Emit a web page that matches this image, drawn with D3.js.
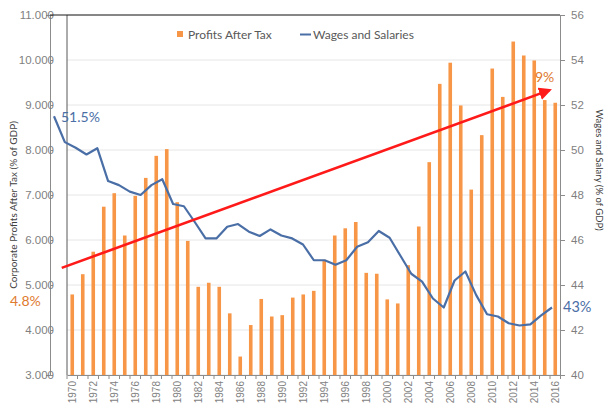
<!DOCTYPE html>
<html>
<head>
<meta charset="utf-8">
<script src="https://cdn.jsdelivr.net/npm/d3@7"></script>
<style>
  body { margin: 0; background: #fff; }
  svg { font-family: Lato, "Open Sans", sans-serif; }
</style>
</head>
<body>
<div id="chart"></div>
<script>
// Years on the category axis
var years = d3.range(1970, 2017);

// Corporate profits after tax, % of GDP (left axis)
var profits = [4.79, 5.24, 5.74, 6.74, 7.04, 6.10, 6.98, 7.38, 7.87, 8.02,
               6.84, 5.98, 4.96, 5.05, 4.96, 4.37, 3.41, 4.11, 4.69, 4.30,
               4.33, 4.72, 4.79, 4.87, 5.56, 6.10, 6.26, 6.40, 5.27, 5.25,
               4.68, 4.59, 5.44, 6.30, 7.73, 9.47, 9.94, 8.99, 7.12, 8.33,
               9.81, 9.18, 10.41, 10.10, 9.99, 9.11, 9.05];

// Wages and salaries, % of GDP (right axis)
var wages = [51.5, 50.35, 50.1, 49.8, 50.08, 48.62, 48.44, 48.15, 48.0, 48.44,
             48.7, 47.6, 47.5, 46.8, 46.07, 46.07, 46.59, 46.71, 46.37, 46.18,
             46.47, 46.2, 46.07, 45.8, 45.1, 45.1, 44.9, 45.1, 45.7, 45.9,
             46.4, 46.1, 45.3, 44.5, 44.15, 43.4, 43.0, 44.2, 44.6, 43.55,
             42.7, 42.6, 42.3, 42.2, 42.25, 42.65, 43.0];

// Axis ticks
var leftTicks = [3, 4, 5, 6, 7, 8, 9, 10, 11];
var rightTicks = [40, 42, 44, 46, 48, 50, 52, 54, 56];

// Trend arrow, in [year, profit] units
var trendStart = [1969.0, 5.38];
var trendEnd = [2015.45, 9.33];

var width = 606;
var height = 412;
var plotTop = 15;
var plotBottom = 375;
var orange = "#f79646";
var blue = "#4a6ea6";
var grey = "#7f7f7f";

var svg = d3.select("#chart").append("svg")
  .attr("width", width)
  .attr("height", height);

// Scales
var xBand = d3.scaleBand().domain(years).range([67, 560.5]);
var xLine = d3.scalePoint().domain(years).range([54, 552]);
var xYear = d3.scaleLinear()
  .domain([1970, 2016])
  .range([xBand(1970) + xBand.bandwidth() / 2, xBand(2016) + xBand.bandwidth() / 2]);
var yLeft = d3.scaleLinear().domain([3, 11]).range([plotBottom, plotTop]);
var yRight = d3.scaleLinear().domain([40, 56]).range([plotBottom, plotTop]);

// Gridlines
svg.append("g")
  .selectAll("line")
  .data(leftTicks)
  .enter().append("line")
  .attr("x1", 67).attr("x2", 560)
  .attr("y1", function(d) { return yLeft(d); })
  .attr("y2", function(d) { return yLeft(d); })
  .attr("stroke", "#e6e6e6")
  .attr("stroke-width", 1);

// Bars
svg.append("g")
  .selectAll("rect")
  .data(profits)
  .enter().append("rect")
  .attr("x", function(d, i) { return xBand(years[i]) + xBand.bandwidth() / 2 - 1.8; })
  .attr("width", 3.6)
  .attr("y", function(d) { return yLeft(d); })
  .attr("height", function(d) { return plotBottom - yLeft(d); })
  .attr("fill", orange);

// Left axis
var leftAxis = svg.append("g")
  .attr("transform", "translate(50,0)")
  .call(d3.axisLeft(yLeft).tickValues(leftTicks).tickFormat(d3.format(".3f")).tickSize(4));
leftAxis.select(".domain").attr("stroke", "#8c8c8c");
leftAxis.selectAll(".tick line").attr("stroke", "#8c8c8c").attr("x2", 3);
leftAxis.selectAll("text")
  .attr("x", 4)
  .attr("fill", grey)
  .style("font-size", "11.5px");

// Right axis
var rightAxis = svg.append("g")
  .attr("transform", "translate(560,0)")
  .call(d3.axisRight(yRight).tickValues(rightTicks).tickSize(5));
rightAxis.select(".domain").attr("stroke", "#8c8c8c");
rightAxis.selectAll(".tick line").attr("stroke", "#8c8c8c");
rightAxis.selectAll("text")
  .attr("x", 11)
  .attr("fill", grey)
  .style("font-size", "11.5px");

// Bottom axis
var bottomAxis = svg.append("g")
  .attr("transform", "translate(0," + plotBottom + ")")
  .call(d3.axisBottom(xBand).tickSize(0).tickFormat(function(d) { return d % 2 === 0 ? d : ""; }));
bottomAxis.select(".domain").attr("stroke", "#8c8c8c");
bottomAxis.selectAll("text")
  .attr("transform", "rotate(-90)")
  .attr("x", -6)
  .attr("y", 0)
  .attr("dy", "0.35em")
  .style("text-anchor", "end")
  .attr("fill", grey)
  .style("font-size", "10px");
// tick marks at band edges
svg.append("g")
  .selectAll("line")
  .data(years.concat([2017]))
  .enter().append("line")
  .attr("x1", function(d) { return d === 2017 ? 560.5 : xBand(d); })
  .attr("x2", function(d) { return d === 2017 ? 560.5 : xBand(d); })
  .attr("y1", plotBottom)
  .attr("y2", plotBottom + 4)
  .attr("stroke", "#8c8c8c");

// Plot frame (inner left edge and top)
svg.append("line")
  .attr("x1", 67).attr("x2", 67).attr("y1", plotTop).attr("y2", plotBottom)
  .attr("stroke", "#595959");
svg.append("line")
  .attr("x1", 50).attr("x2", 560).attr("y1", plotTop).attr("y2", plotTop)
  .attr("stroke", "#1a1a1a");

// Wages line
var line = d3.line()
  .x(function(d, i) { return xLine(years[i]); })
  .y(function(d) { return yRight(d); });
svg.append("path")
  .datum(wages)
  .attr("d", line)
  .attr("fill", "none")
  .attr("stroke", blue)
  .attr("stroke-width", 2.2)
  .attr("stroke-linejoin", "round");

// Trend arrow
svg.append("defs").append("marker")
  .attr("id", "arrow")
  .attr("viewBox", "0 0 10 10")
  .attr("refX", 8).attr("refY", 5)
  .attr("markerWidth", 5).attr("markerHeight", 5)
  .attr("orient", "auto")
  .append("path")
  .attr("d", "M0,0 L10,5 L0,10 Z")
  .attr("fill", "#ff1a1a");
svg.append("line")
  .attr("x1", xYear(trendStart[0])).attr("y1", yLeft(trendStart[1]))
  .attr("x2", xYear(trendEnd[0])).attr("y2", yLeft(trendEnd[1]))
  .attr("stroke", "#ff1a1a")
  .attr("stroke-width", 2.6)
  .attr("marker-end", "url(#arrow)");

// Value callouts
svg.append("text")
  .attr("x", xLine(1970) + 7).attr("y", yRight(wages[0]) + 6)
  .attr("fill", blue).style("font-size", "14px")
  .text("51.5%");
svg.append("text")
  .attr("x", 563).attr("y", yRight(wages[wages.length - 1]) + 4)
  .attr("fill", blue).style("font-size", "14.5px")
  .text("43%");
svg.append("text")
  .attr("x", 10).attr("y", yLeft(profits[0]) + 12)
  .attr("fill", "#e07a2e").style("font-size", "14px")
  .text("4.8%");
svg.append("text")
  .attr("x", 535).attr("y", 82)
  .attr("fill", "#e07a2e").style("font-size", "14px")
  .text("9%");

// Legend
var legend = svg.append("g").style("font-size", "12px");
legend.append("rect")
  .attr("x", 177).attr("y", 31).attr("width", 6).attr("height", 6)
  .attr("fill", orange);
legend.append("text")
  .attr("x", 188).attr("y", 39)
  .attr("fill", "#595959")
  .text("Profits After Tax");
legend.append("line")
  .attr("x1", 300).attr("x2", 311).attr("y1", 34.5).attr("y2", 34.5)
  .attr("stroke", blue).attr("stroke-width", 2);
legend.append("text")
  .attr("x", 313).attr("y", 39)
  .attr("fill", "#595959")
  .text("Wages and Salaries");

// Axis titles
svg.append("text")
  .attr("transform", "translate(17,205) rotate(-90)")
  .attr("fill", "#404040")
  .style("font-size", "10px")
  .style("text-anchor", "middle")
  .text("Corporate Profits After Tax (% of GDP)");
svg.append("text")
  .attr("transform", "translate(596,170) rotate(90)")
  .attr("fill", "#404040")
  .style("font-size", "9.5px")
  .style("text-anchor", "middle")
  .text("Wages and Salary (% of GDP)");
</script>
</body>
</html>
